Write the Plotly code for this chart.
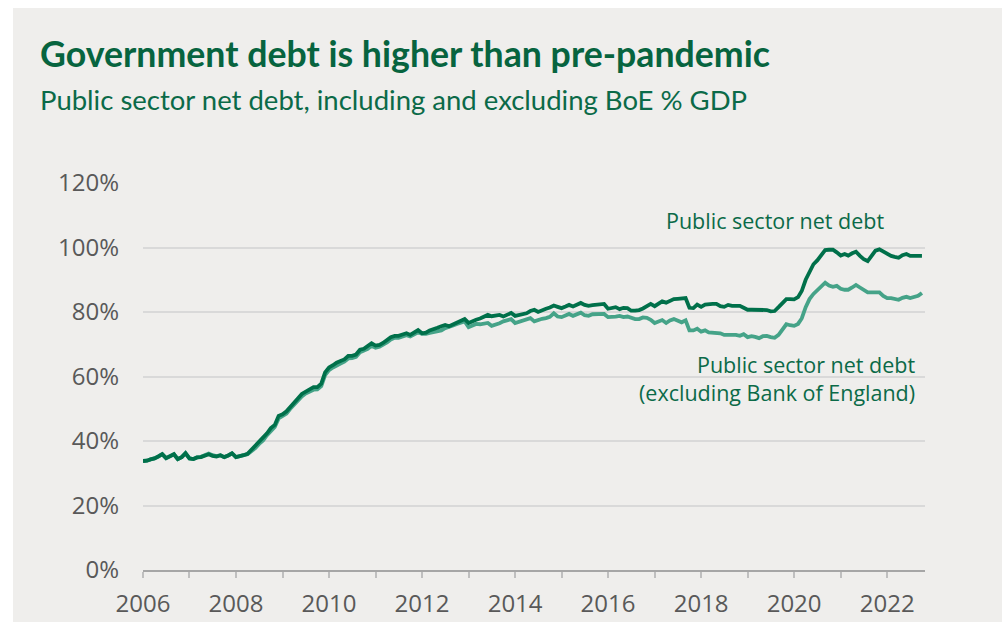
import plotly.graph_objects as go
import pandas as pd

# Monthly data, Jan 2006 - Oct 2022 (% of GDP)
dates = pd.date_range("2006-01-01", periods=202, freq="MS")

psnd = [
    33.8, 33.9, 34.3, 34.6, 35.2, 35.9, 34.7, 35.2, 35.9, 34.4, 35.0, 36.2,   # 2006
    34.6, 34.4, 34.9, 35.0, 35.4, 35.9, 35.4, 35.2, 35.6, 35.0, 35.5, 36.2,   # 2007
    35.0, 35.2, 35.6, 36.0, 37.2, 38.3, 39.6, 40.8, 42.4, 44.0, 45.0, 47.8,   # 2008
    48.3, 49.2, 50.6, 52.0, 53.2, 54.6, 55.4, 56.2, 56.7, 56.7, 57.8, 61.3,   # 2009
    62.8, 63.5, 64.3, 64.8, 65.3, 66.4, 66.4, 66.8, 68.3, 68.6, 69.3, 70.3,   # 2010
    69.6, 69.8, 70.4, 71.2, 72.2, 72.6, 72.6, 73.0, 73.4, 72.9, 73.6, 74.4,   # 2011
    73.4, 73.6, 74.3, 74.6, 75.1, 75.6, 76.0, 75.6, 76.2, 76.8, 77.3, 77.8,   # 2012
    76.6, 77.3, 77.6, 78.0, 78.7, 79.1, 78.7, 78.8, 79.1, 78.6, 79.2, 79.7,   # 2013
    78.8, 79.0, 79.3, 79.6, 80.3, 80.7, 80.0, 80.6, 81.0, 81.4, 82.0, 81.6,   # 2014
    81.2, 81.7, 82.2, 81.7, 82.2, 82.8, 82.2, 81.9, 82.1, 82.2, 82.3, 82.5,   # 2015
    81.0, 81.2, 81.5, 80.9, 81.3, 81.2, 80.4, 80.4, 80.6, 81.1, 81.8, 82.5,   # 2016
    81.8, 82.5, 83.3, 82.9, 83.6, 84.0, 84.1, 84.3, 84.3, 81.3, 81.2, 82.3,   # 2017
    81.6, 82.3, 82.5, 82.5, 82.5, 81.8, 81.6, 82.2, 81.9, 81.9, 81.9, 81.3,   # 2018
    80.7, 80.7, 80.7, 80.7, 80.7, 80.6, 80.2, 80.3, 81.5, 82.8, 84.0, 84.0,   # 2019
    83.9, 84.6, 86.5, 90.0, 92.7, 94.8, 96.0, 97.5, 99.2, 99.3, 99.3, 98.5,   # 2020
    97.5, 98.0, 97.5, 98.2, 98.7, 97.4, 96.4, 95.8, 97.5, 99.0, 99.4, 98.7,   # 2021
    98.0, 97.4, 97.1, 96.8, 97.6, 98.0, 97.4, 97.4, 97.4, 97.4,               # 2022
]

psnd_ex_boe = [
    33.8, 33.9, 34.3, 34.6, 35.2, 35.9, 34.7, 35.2, 35.9, 34.4, 35.0, 36.2,   # 2006
    34.6, 34.4, 34.9, 35.1, 35.6, 36.1, 35.6, 35.3, 35.6, 35.0, 35.5, 36.2,   # 2007
    35.0, 35.2, 35.6, 35.9, 36.8, 37.8, 39.1, 40.2, 41.8, 43.3, 44.4, 47.0,   # 2008
    47.6, 48.5, 49.9, 51.3, 52.5, 53.8, 54.7, 55.4, 55.9, 56.0, 57.0, 60.4,   # 2009
    62.0, 62.8, 63.5, 64.0, 64.6, 65.6, 65.7, 66.1, 67.5, 67.9, 68.6, 69.5,   # 2010
    68.9, 69.2, 69.8, 70.6, 71.5, 72.0, 72.0, 72.4, 72.8, 72.4, 73.0, 73.7,   # 2011
    73.2, 73.2, 73.5, 73.8, 73.9, 74.3, 75.0, 75.3, 75.8, 76.3, 76.7, 77.1,   # 2012
    75.3, 75.8, 76.3, 76.2, 76.4, 76.6, 75.7, 76.0, 76.5, 77.1, 77.5, 77.8,   # 2013
    76.6, 77.0, 77.4, 77.8, 78.1, 77.1, 77.6, 77.9, 78.1, 78.5, 79.6, 78.6,   # 2014
    78.4, 79.0, 79.4, 78.8, 79.3, 79.8, 79.0, 78.8, 79.3, 79.4, 79.4, 79.4,   # 2015
    78.4, 78.4, 78.6, 78.8, 78.4, 78.6, 78.1, 77.8, 77.8, 78.3, 78.2, 77.6,   # 2016
    76.6, 77.2, 77.5, 76.6, 77.4, 77.8, 77.2, 76.8, 77.4, 74.3, 74.3, 74.8,   # 2017
    73.9, 74.3, 73.7, 73.6, 73.5, 73.4, 72.9, 72.9, 72.9, 72.9, 72.6, 73.1,   # 2018
    72.2, 72.5, 72.3, 71.9, 72.5, 72.6, 72.2, 72.0, 72.9, 74.4, 76.2, 75.9,   # 2019
    75.7, 76.3, 78.0, 81.5, 84.0, 85.6, 86.7, 88.0, 89.1, 88.2, 87.8, 88.1,   # 2020
    87.2, 86.9, 86.9, 87.6, 88.4, 87.6, 86.7, 86.1, 86.1, 86.1, 86.1, 85.0,   # 2021
    84.3, 84.3, 84.0, 83.8, 84.4, 84.7, 84.3, 84.6, 85.0, 85.9,               # 2022
]

y_ticks = [0, 20, 40, 60, 80, 100, 120]
y_tick_labels = ["0%", "20%", "40%", "60%", "80%", "100%", "120%"]

title = "Government debt is higher than pre-pandemic"
subtitle = "Public sector net debt, including and excluding BoE % GDP"
label_psnd = "Public sector net debt"
label_ex = "Public sector net debt<br>(excluding Bank of England)"

DARK = "#00704a"
LIGHT = "#45a388"
TEXT_GREEN = "#0b6a48"
BG = "#efeeec"

fig = go.Figure()
fig.add_trace(go.Scatter(x=dates, y=psnd_ex_boe, mode="lines",
                         line=dict(color=LIGHT, width=3.8), hoverinfo="skip"))
fig.add_trace(go.Scatter(x=dates, y=psnd, mode="lines",
                         line=dict(color=DARK, width=3.8), hoverinfo="skip"))

L, R, T, B = 143, 82, 183, 59
W, H = 1007, 629
pw, ph = W - L - R, H - T - B

def px(xp):
    return (xp - L) / pw

def py(yp):
    return (H - B - yp) / ph

fig.add_shape(type="rect", xref="paper", yref="paper",
              x0=px(13), x1=px(1002), y0=py(622), y1=py(8),
              fillcolor=BG, line_width=0, layer="below")

fig.add_annotation(text="<b>" + title + "</b>", xref="paper", yref="paper",
                   x=px(38), y=py(53), xanchor="left", yanchor="middle",
                   showarrow=False, font=dict(family="Lato", size=35.7, color="#07643f"))
fig.add_annotation(text=subtitle, xref="paper", yref="paper",
                   x=px(38), y=py(100), xanchor="left", yanchor="middle",
                   showarrow=False, font=dict(family="Lato", size=27.5, color=TEXT_GREEN))
fig.add_annotation(text=label_psnd, xref="paper", yref="y",
                   x=px(886), y=108.3, xanchor="right", yanchor="middle",
                   showarrow=False, font=dict(family="Open Sans", size=21.5, color=TEXT_GREEN))
fig.add_annotation(text=label_ex, xref="paper", yref="y",
                   x=px(917), y=59.5, xanchor="right", yanchor="middle", align="right",
                   showarrow=False, font=dict(family="Open Sans", size=21.5, color=TEXT_GREEN))

fig.update_layout(
    width=W, height=H,
    margin=dict(l=L, r=R, t=T, b=B, autoexpand=False),
    paper_bgcolor="white", plot_bgcolor=BG,
    showlegend=False,
    font=dict(family="Open Sans", size=24, color="#595959"),
)
fig.update_xaxes(
    type="date", range=["2006-01-01", "2022-10-25"], automargin=False,
    dtick="M24", tick0="2006-01-01", tickformat="%Y",
    ticks="outside", ticklen=6, tickcolor="#bfbfbf", tickwidth=1.5,
    minor=dict(dtick="M12", tick0="2006-01-01", ticks="outside", ticklen=6,
               tickcolor="#bfbfbf", tickwidth=1.5, showgrid=False),
    showline=True, linecolor="#a6a6a6", linewidth=1.5,
    showgrid=False, zeroline=False, ticklabelstandoff=5,
    tickfont=dict(family="Open Sans", size=24, color="#595959"),
)
fig.update_yaxes(
    range=[0, 120], tickvals=y_ticks, ticktext=y_tick_labels, automargin=False,
    showgrid=True, gridcolor="#d9d9d9", gridwidth=1.5,
    zeroline=False, showline=False, ticks="", ticklabelstandoff=23,
    tickfont=dict(family="Open Sans", size=24, color="#595959"),
)

fig.write_html("out.html")
